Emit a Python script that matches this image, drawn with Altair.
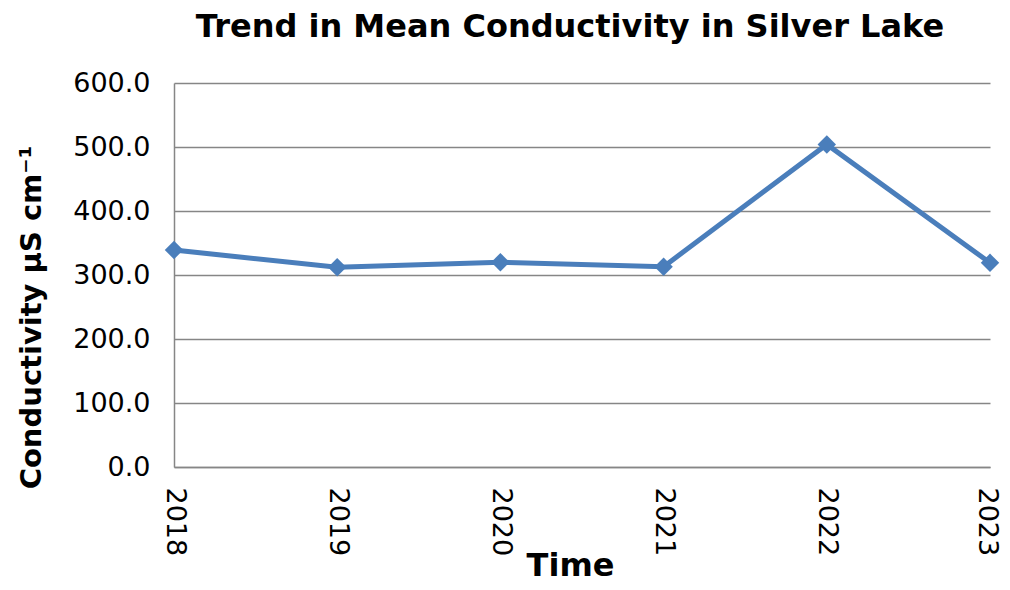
import altair as alt
import pandas as pd

years = ["2018", "2019", "2020", "2021", "2022", "2023"]
conductivity = [339.0, 312.0, 320.0, 313.0, 504.0, 319.0]

df = pd.DataFrame({"Year": years, "Conductivity": conductivity})

FONT = "DejaVu Sans"

chart = alt.Chart(df).mark_line(
    color="#4a7ebb",
    strokeWidth=5,
    point=alt.OverlayMarkDef(shape="diamond", size=340, color="#4a7ebb", filled=True, opacity=1),
).encode(
    x=alt.X(
        "Year:O",
        scale=alt.Scale(type="point", padding=0),
        axis=alt.Axis(
            title="Time",
            labelAngle=90,
            labelFontSize=27,
            labelPadding=20,
            labelOffset={"condition": {"test": "datum.value == '2023'", "value": -4}, "value": 0},
            labelColor="black",
            labelFont=FONT,
            ticks=False,
            domain=True,
            domainColor="#868686",
            domainWidth=1.5,
            grid=False,
            titleFont=FONT,
            titleFontSize=32,
            titleFontWeight="bold",
            titleColor="black",
            titleX=396,
            titleY=108,
            titleBaseline="alphabetic",
            titleAlign="center",
        ),
    ),
    y=alt.Y(
        "Conductivity:Q",
        scale=alt.Scale(domain=[0, 600], nice=False),
        axis=alt.Axis(
            title="Conductivity µS cm⁻¹",
            values=[0, 100, 200, 300, 400, 500, 600],
            format=".1f",
            labelFontSize=27,
            labelPadding=24,
            labelColor="black",
            labelFont=FONT,
            ticks=False,
            domain=True,
            domainColor="#868686",
            domainWidth=1.5,
            grid=True,
            gridColor="#868686",
            gridWidth=1.5,
            titleFont=FONT,
            titleFontSize=29,
            titleFontWeight="bold",
            titleColor="black",
            titleAngle=270,
            titleX=-143,
            titleY=234,
            titleBaseline="middle",
            titleAlign="center",
        ),
    ),
).properties(
    width=816,
    height=384,
    title=alt.TitleParams(
        text="Trend in Mean Conductivity in Silver Lake",
        font=FONT,
        fontSize=32,
        fontWeight="bold",
        color="black",
        anchor="middle",
        offset=25,
        dx=-12,
    ),
    autosize=alt.AutoSizeParams(type="none"),
    padding={"left": 166, "top": 75, "right": 12, "bottom": 115},
).configure_view(stroke=None)

chart.save("out.html", embed_options={"renderer": "svg", "actions": False})
